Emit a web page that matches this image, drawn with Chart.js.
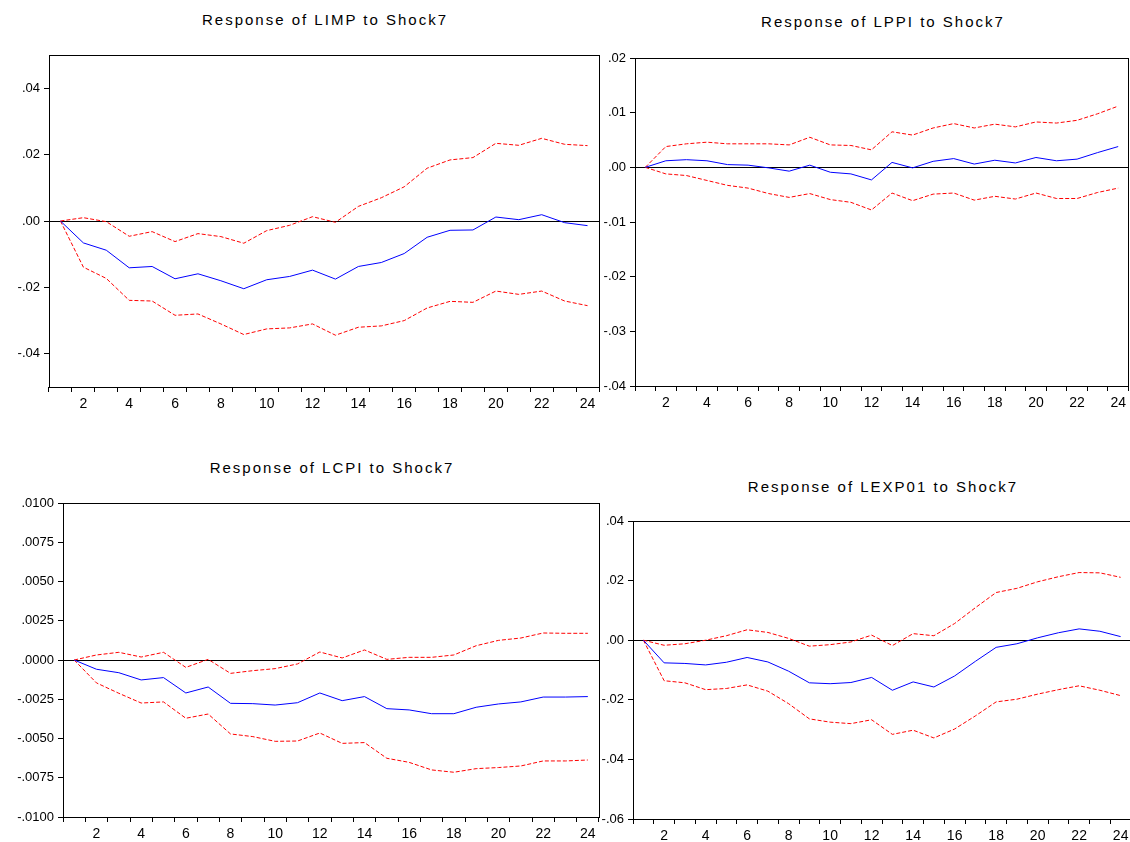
<!DOCTYPE html>
<html>
<head>
<meta charset="utf-8">
<title>Impulse responses to Shock7</title>
<script src="https://cdn.jsdelivr.net/npm/chart.js@4.4.1/dist/chart.umd.min.js"></script>
<style>
  html, body { margin: 0; padding: 0; background: #fff; overflow: hidden; }
  body { width: 1130px; height: 842px; position: relative; }
  canvas { position: absolute; }
  .title {
    position: absolute;
    text-align: center;
    font: 15px "Liberation Sans", Arial, sans-serif;
    letter-spacing: 2px;
    line-height: 18px;
    color: #000;
    white-space: nowrap;
  }
</style>
</head>
<body>
<div class="title" id="title1"></div>
<div class="title" id="title2"></div>
<div class="title" id="title3"></div>
<div class="title" id="title4"></div>
<canvas id="chart1"></canvas>
<canvas id="chart2"></canvas>
<canvas id="chart3"></canvas>
<canvas id="chart4"></canvas>
<script>
// horizon (periods after the shock)
const periods = [1, 2, 3, 4, 5, 6, 7, 8, 9, 10, 11, 12, 13, 14, 15, 16, 17, 18, 19, 20, 21, 22, 23, 24];

// Response of LIMP
const limpResp  = [0, -0.0066, -0.0088, -0.0141, -0.0137, -0.0174, -0.0159, -0.0180, -0.0204, -0.0177, -0.0167, -0.0148,
                   -0.0175, -0.0137, -0.0125, -0.0098, -0.0049, -0.0028, -0.0027, 0.0012, 0.0004, 0.0019, -0.0005, -0.0014];
const limpUpper = [0, 0.0010, -0.0002, -0.0046, -0.0032, -0.0062, -0.0038, -0.0047, -0.0067, -0.0029, -0.0013, 0.0013,
                   -0.0004, 0.0044, 0.0070, 0.0103, 0.0159, 0.0184, 0.0191, 0.0234, 0.0228, 0.0249, 0.0231, 0.0227];
const limpLower = [0, -0.0139, -0.0173, -0.0239, -0.0241, -0.0284, -0.0280, -0.0310, -0.0342, -0.0325, -0.0322, -0.0310,
                   -0.0344, -0.0320, -0.0316, -0.0300, -0.0262, -0.0242, -0.0245, -0.0211, -0.0221, -0.0211, -0.0241, -0.0255];
const limpTicks = [0.04, 0.02, 0, -0.02, -0.04];
const limpRange = [-0.05, 0.05];

// Response of LPPI
const lppiResp  = [0, 0.0012, 0.0014, 0.0012, 0.0005, 0.0004, -0.0001, -0.0007, 0.0004, -0.0009, -0.0012, -0.0023,
                   0.0009, -0.0001, 0.0011, 0.0016, 0.0006, 0.0013, 0.0008, 0.0018, 0.0012, 0.0015, 0.0027, 0.0038];
const lppiUpper = [0, 0.0038, 0.0043, 0.0046, 0.0043, 0.0043, 0.0043, 0.0041, 0.0055, 0.0041, 0.0040, 0.0032,
                   0.0065, 0.0059, 0.0072, 0.0080, 0.0072, 0.0079, 0.0074, 0.0083, 0.0081, 0.0086, 0.0098, 0.0112];
const lppiLower = [0, -0.0012, -0.0015, -0.0024, -0.0033, -0.0038, -0.0048, -0.0055, -0.0048, -0.0059, -0.0064, -0.0078,
                   -0.0047, -0.0061, -0.0049, -0.0047, -0.0060, -0.0053, -0.0058, -0.0047, -0.0057, -0.0057, -0.0046, -0.0038];
const lppiTicks = [0.02, 0.01, 0, -0.01, -0.02, -0.03, -0.04];
const lppiRange = [-0.04, 0.02];

// Response of LCPI
const lcpiResp  = [0, -0.00059, -0.00081, -0.00127, -0.00112, -0.0021, -0.00172, -0.00276, -0.00278, -0.00287, -0.00272, -0.0021,
                   -0.00259, -0.00233, -0.0031, -0.00318, -0.00342, -0.00342, -0.00301, -0.0028, -0.00267, -0.00236, -0.00236, -0.00233];
const lcpiUpper = [0, 0.00032, 0.00049, 0.00019, 0.00049, -0.00047, 0.00004, -0.00085, -0.00068, -0.00055, -0.00025, 0.00051,
                   0.00013, 0.00064, 0.00004, 0.00017, 0.00017, 0.00032, 0.00091, 0.00125, 0.0014, 0.00172, 0.0017, 0.0017];
const lcpiLower = [0, -0.00146, -0.00212, -0.00274, -0.00267, -0.00371, -0.00344, -0.00471, -0.00488, -0.00518, -0.00516, -0.00465,
                   -0.00531, -0.00526, -0.00626, -0.00652, -0.0070, -0.00715, -0.00692, -0.00685, -0.00675, -0.00643, -0.00643, -0.00637];
const lcpiTicks = [0.01, 0.0075, 0.005, 0.0025, 0, -0.0025, -0.005, -0.0075, -0.01];
const lcpiRange = [-0.01, 0.01];

// Response of LEXP01
const lexpResp  = [0, -0.0076, -0.0078, -0.0083, -0.0074, -0.0058, -0.0073, -0.0104, -0.0143, -0.0146, -0.0142, -0.0125,
                   -0.0168, -0.0140, -0.0157, -0.0120, -0.0071, -0.0024, -0.0012, 0.0008, 0.0025, 0.0038, 0.0030, 0.0012];
const lexpUpper = [0, -0.0017, -0.0012, 0, 0.0015, 0.0035, 0.0026, 0.0006, -0.0020, -0.0015, -0.0006, 0.0017,
                   -0.0018, 0.0022, 0.0015, 0.0056, 0.0109, 0.0160, 0.0174, 0.0196, 0.0213, 0.0227, 0.0226, 0.0211];
const lexpLower = [0, -0.0136, -0.0143, -0.0166, -0.0162, -0.0150, -0.0171, -0.0213, -0.0264, -0.0275, -0.0280, -0.0267,
                   -0.0316, -0.0302, -0.0328, -0.0298, -0.0254, -0.0207, -0.0198, -0.0181, -0.0166, -0.0153, -0.0168, -0.0186];
const lexpTicks = [0.04, 0.02, 0, -0.02, -0.04, -0.06];
const lexpRange = [-0.06, 0.04];

Chart.defaults.font.family = '"Liberation Sans", Arial, sans-serif';
Chart.defaults.color = '#000';

// EViews-style labels: .02, -.0025, .00
function evLabel(v, digits) {
  const s = Math.abs(v).toFixed(digits).replace(/^0/, '');
  return (v < -1e-12 ? '-' : '') + s;
}

// box around the plot area
const frame = {
  id: 'frame',
  afterDraw(chart) {
    const { ctx, chartArea: a } = chart;
    ctx.save();
    ctx.strokeStyle = '#000';
    ctx.lineWidth = 1;
    ctx.strokeRect(Math.round(a.left) + 0.5, Math.round(a.top) + 0.5,
      Math.round(a.right - a.left), Math.round(a.bottom - a.top));
    ctx.restore();
  }
};

function makePanel(n, name, resp, upper, lower, ticks, range, digits, canvas, box, titleTop) {
  const t = document.getElementById('title' + n);
  t.textContent = 'Response of ' + name + ' to Shock7';
  t.style.left = box.l + 'px';
  t.style.width = (box.r - box.l + 2) + 'px';
  t.style.top = titleTop + 'px';

  const el = document.getElementById('chart' + n);
  el.width = canvas.w;
  el.height = canvas.h;
  el.style.left = canvas.x + 'px';
  el.style.top = canvas.y + 'px';
  el.style.width = canvas.w + 'px';
  el.style.height = canvas.h + 'px';

  const yWidth = box.l - canvas.x;
  const xHeight = canvas.y + canvas.h - box.b;

  new Chart(el, {
    type: 'line',
    data: {
      labels: periods,
      datasets: [
        { data: resp, borderColor: '#0000ff', borderWidth: 1 },
        { data: upper, borderColor: '#ff0000', borderWidth: 1, borderDash: [4, 2] },
        { data: lower, borderColor: '#ff0000', borderWidth: 1, borderDash: [4, 2] }
      ]
    },
    options: {
      responsive: false,
      animation: false,
      devicePixelRatio: 1,
      elements: { point: { radius: 0 }, line: { tension: 0 } },
      layout: {
        padding: { left: 0, top: box.t - canvas.y, right: canvas.x + canvas.w - box.r, bottom: 0 }
      },
      plugins: { legend: { display: false }, tooltip: { enabled: false } },
      scales: {
        x: {
          type: 'category',
          offset: true,
          border: { display: false },
          grid: { offset: true, drawOnChartArea: false, drawTicks: true, tickLength: 5, color: '#000' },
          ticks: {
            autoSkip: false,
            maxRotation: 0,
            padding: 4,
            font: { size: 14 },
            callback: (v, i) => (periods[i] % 2 === 0 ? String(periods[i]) : '')
          },
          afterFit: (scale) => { scale.height = xHeight; }
        },
        y: {
          min: range[0],
          max: range[1],
          border: { display: false },
          grid: {
            color: (c) => (c.tick && Math.abs(c.tick.value) < 1e-12 ? '#000' : 'rgba(0,0,0,0)'),
            tickColor: '#000',
            tickLength: 5
          },
          ticks: {
            autoSkip: false,
            padding: 4,
            font: { size: 13 },
            callback: (v) => evLabel(v, digits)
          },
          afterBuildTicks: (scale) => { scale.ticks = ticks.map((v) => ({ value: v })); },
          afterFit: (scale) => { scale.width = yWidth; }
        }
      }
    },
    plugins: [frame]
  });
}

makePanel(1, 'LIMP', limpResp, limpUpper, limpLower, limpTicks, limpRange, 2,
  { x: 0, y: 40, w: 610, h: 380 }, { l: 49, t: 55, r: 599, b: 387 }, 11);
makePanel(2, 'LPPI', lppiResp, lppiUpper, lppiLower, lppiTicks, lppiRange, 2,
  { x: 595, y: 40, w: 535, h: 380 }, { l: 635, t: 58, r: 1129, b: 386 }, 13);
makePanel(3, 'LCPI', lcpiResp, lcpiUpper, lcpiLower, lcpiTicks, lcpiRange, 4,
  { x: 0, y: 480, w: 610, h: 362 }, { l: 63, t: 503, r: 599, b: 817 }, 459);
makePanel(4, 'LEXP01', lexpResp, lexpUpper, lexpLower, lexpTicks, lexpRange, 2,
  { x: 595, y: 500, w: 540, h: 342 }, { l: 633, t: 521, r: 1131, b: 819 }, 478);
</script>
</body>
</html>
